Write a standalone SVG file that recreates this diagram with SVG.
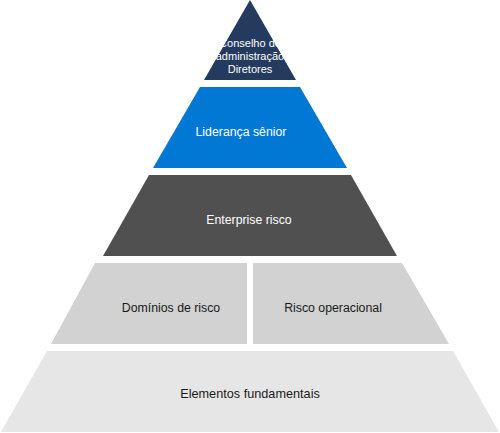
<svg xmlns="http://www.w3.org/2000/svg" width="500" height="433" viewBox="0 0 500 433">
  <style>
    .lbl { font-family: "Liberation Sans", Arial, sans-serif; font-size: 12.3px; text-anchor: middle; }
    .top { font-size: 11px; }
    .light { fill: #ffffff; }
    .dark { fill: #1a1a1a; }
  </style>
  <rect width="500" height="433" fill="#ffffff"/>
  <g id="conselho">
    <polygon points="250,0 296,80 204,80" fill="#243A5E"/>
    <text class="lbl top light" x="250" y="47">Conselho de</text>
    <text class="lbl top light" x="250" y="60">administração</text>
    <text class="lbl top light" x="250" y="73">Diretores</text>
  </g>
  <g id="lideranca">
    <polygon points="200,87 300,87 347,168 153,168" fill="#0078D4"/>
    <text class="lbl light" x="241" y="136">Liderança sênior</text>
  </g>
  <g id="enterprise">
    <polygon points="149,175 351,175 397,256 103,256" fill="#505050"/>
    <text class="lbl light" x="249" y="224">Enterprise risco</text>
  </g>
  <g id="dominios">
    <polygon points="95,263 247,263 247,344 51,344" fill="#D2D2D2"/>
    <text class="lbl dark" x="171" y="312">Domínios de risco</text>
  </g>
  <g id="operacional">
    <polygon points="253,263 402,263 449,344 253,344" fill="#D2D2D2"/>
    <text class="lbl dark" x="333" y="312">Risco operacional</text>
  </g>
  <g id="fundamentais">
    <polygon points="47,351 453,351 499,432 1,432" fill="#E6E6E6"/>
    <text class="lbl dark" x="250" y="398" style="font-size:12.7px">Elementos fundamentais</text>
  </g>
  <g id="connectors"/>
</svg>
